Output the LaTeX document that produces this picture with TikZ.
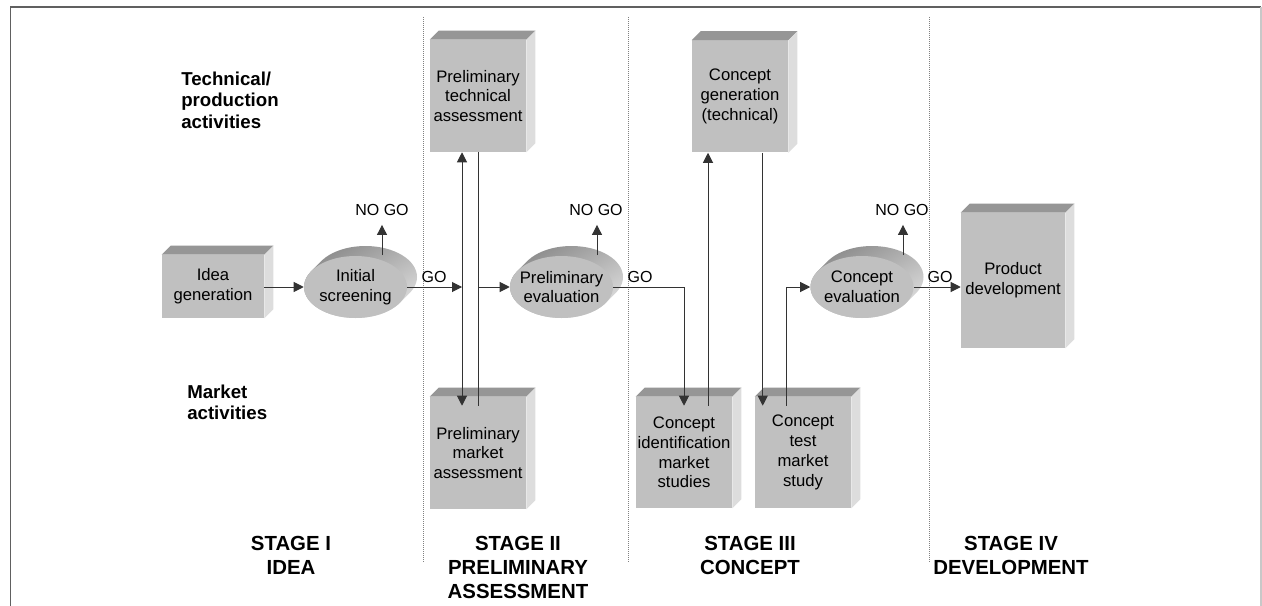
\documentclass[tikz,border=0pt]{standalone}
\usepackage{fontspec}
\setmainfont{Liberation Sans}
\usetikzlibrary{arrows.meta,shapes.geometric,calc}
\definecolor{boxfront}{HTML}{C0C0C0}
\definecolor{boxtopc}{HTML}{969696}
\definecolor{boxsidec}{HTML}{DDDDDD}
\definecolor{linec}{HTML}{333333}
\definecolor{ovaldark}{HTML}{8C8C8C}
\definecolor{ovallight}{HTML}{DEDEDE}
\definecolor{framedark}{HTML}{606060}
\definecolor{framelight}{HTML}{C8C8C8}
\newcommand\boxfaces[1]{%
  \fill[boxtopc] (#1.north west) -- ++(6.75pt,6.75pt) -- ([shift={(6.75pt,6.75pt)}]#1.north east) -- (#1.north east) -- cycle;
  \fill[boxsidec] (#1.north east) -- ++(6.75pt,6.75pt) -- ([shift={(6.75pt,6.75pt)}]#1.south east) -- (#1.south east) -- cycle;}
\newcommand\ovalback[2]{%
  \shade[top color=ovaldark, bottom color=ovallight, shading angle=30]
    \foreach \t in {0,...,10} { (#1+\t,#2-\t) ellipse (38.625pt and 23.25pt) };}
\tikzset{
  boxnode/.style={rectangle, fill=boxfront, inner sep=0pt, align=center, font=\fontsize{12.5}{14.8}\selectfont},
  oval/.style={ellipse, fill=boxfront, inner sep=0pt, minimum width=77.25pt, minimum height=46.5pt},
  ovaltext/.style={align=center, inner sep=0pt, font=\fontsize{12.5}{14.8}\selectfont},
  gotext/.style={inner sep=0pt, font=\fontsize{12}{14}\selectfont},
  sidelabel/.style={inner sep=0pt, align=left, anchor=west, font=\bfseries\fontsize{14}{16}\selectfont},
  stagelabel/.style={inner sep=0pt, align=center, font=\bfseries\fontsize{15.3}{18}\selectfont},
  conn/.style={draw=linec, line width=0.75pt},
  arr/.style={conn, -{Triangle[length=7.5pt,width=7.5pt]}},
  dblarr/.style={conn, {Triangle[length=7.5pt,width=7.5pt]}-{Triangle[length=7.5pt,width=7.5pt]}},
  stagesep/.style={draw=gray, line width=0.6pt, dash pattern=on 0.75pt off 0.75pt},
}
\begin{document}
\begin{tikzpicture}[x=0.75pt,y=-0.75pt]
\fill[white] (0,0) rectangle (1262,606);
\useasboundingbox (0,0) rectangle (1262,606);
% frame
\draw[framedark, line width=1pt] (10.7,606) -- (10.7,7) -- (1261,7);
\draw[framelight, line width=1pt] (1261,7) -- (1261,606);
% stage separators
\draw[stagesep] (423,17) -- (423,562);
\draw[stagesep] (628,17) -- (628,562);
\draw[stagesep] (929,17) -- (929,562);

% boxes
\node[boxnode, minimum width=76.5pt, minimum height=47.25pt] (idea) at (213,286.5) {Idea\\generation};
\boxfaces{idea}
\node[boxnode, minimum width=72pt, minimum height=84pt] (ptech) at (478,96) {Preliminary\\technical\\assessment};
\boxfaces{ptech}
\node[boxnode, minimum width=72pt, minimum height=84pt] (pmkt) at (478,453) {Preliminary\\market\\assessment};
\boxfaces{pmkt}
\node[boxnode, minimum width=72pt, minimum height=84pt] (cgen) at (740,96.5) {Concept\\generation\\(technical)};
\boxfaces{cgen}
\node[boxnode, minimum width=72pt, minimum height=83.25pt] (cid) at (684,452.5) {Concept\\identification\\market\\studies};
\boxfaces{cid}
\node[boxnode, minimum width=72pt, minimum height=83.25pt] (ctest) at (803,452.5) {Concept\\test\\market\\study};
\boxfaces{ctest}
\node[boxnode, minimum width=78pt, minimum height=101.25pt] (pdev) at (1013,280.5) {Product\\development};
\boxfaces{pdev}

% ovals
\ovalback{355.5}{287}
\node[oval, label={[ovaltext]center:{Initial\\screening}}] (iscreen) at (355.5,287) {};
\ovalback{561.5}{287}
\node[oval, label={[ovaltext]center:{Preliminary\\evaluation}}] (peval) at (561.5,287) {};
\ovalback{862}{287}
\node[oval, label={[ovaltext]center:{Concept\\evaluation}}] (ceval) at (862,287) {};

% labels
\node[sidelabel] (techlbl) at (181,100) {Technical/\\production\\activities};
\node[sidelabel] (mktlbl) at (187,402.5) {Market\\activities};
\node[stagelabel] (st1) at (291,555) {STAGE I\\IDEA};
\node[stagelabel] (st2) at (518,567) {STAGE II\\PRELIMINARY\\ASSESSMENT};
\node[stagelabel] (st3) at (750,555) {STAGE III\\CONCEPT};
\node[stagelabel] (st4) at (1011,555) {STAGE IV\\DEVELOPMENT};

\node[gotext] (nogo1) at (382,210) {NO GO};
\node[gotext] (nogo2) at (596,210) {NO GO};
\node[gotext] (nogo3) at (902,210) {NO GO};
\node[gotext] (go1) at (434,277) {GO};
\node[gotext] (go2) at (640,277) {GO};
\node[gotext] (go3) at (940,277) {GO};

% helper coordinates
\coordinate (v1) at ([xshift=-12pt]ptech.south);
\coordinate (v1b) at ([xshift=-12pt]pmkt.north);
\coordinate (v2) at ([xshift=18pt]cid.north);
\coordinate (v3) at ([xshift=6pt]ctest.north west);
\coordinate (v4) at ([xshift=24pt]ctest.north west);
\coordinate (ng1) at ([xshift=19.875pt,yshift=24pt]iscreen.center);
\coordinate (ng2) at ([xshift=26.625pt,yshift=24pt]peval.center);
\coordinate (ng3) at ([xshift=30.75pt,yshift=24pt]ceval.center);

% connectors
\draw[arr] (idea.east |- iscreen.west) -- (iscreen.west);
\draw[arr] (iscreen.east) -- (iscreen.east -| v1);
\draw[dblarr, shorten >=-6.75pt] (v1) -- (v1b);
\draw[conn, shorten >=-6.75pt] (ptech.south) -- (pmkt.north);
\draw[arr] (ptech.south |- peval.west) -- (peval.west);
\draw[arr, shorten >=-6.75pt] (peval.east) -| (cid.north);
\draw[arr, shorten <=-6.75pt] (v2) -- (v2 |- cgen.south);
\draw[arr, shorten >=-6.75pt] (v3 |- cgen.south) -- (v3);
\draw[arr, shorten <=-6.75pt] (v4) |- (ceval.west);
\draw[arr] (ceval.east) -- (ceval.east -| pdev.west);
\draw[arr, shorten >=6.75pt] (ng1) -- (ng1 |- nogo1.south);
\draw[arr, shorten >=6.75pt] (ng2) -- (ng2 |- nogo2.south);
\draw[arr, shorten >=6.75pt] (ng3) -- (ng3 |- nogo3.south);
\end{tikzpicture}
\end{document}
